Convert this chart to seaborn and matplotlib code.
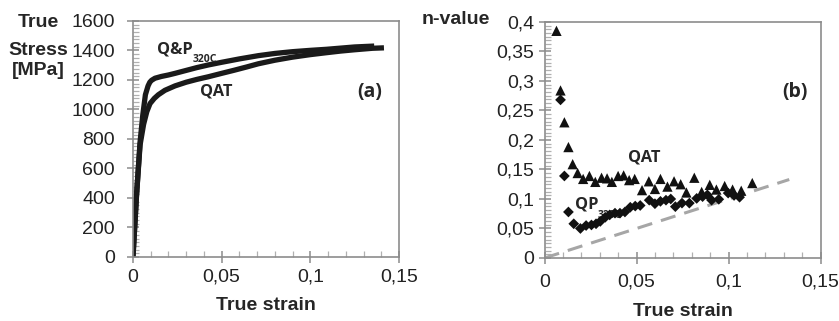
import matplotlib
matplotlib.use("Agg")
import matplotlib.pyplot as plt
import seaborn as sns
import pandas as pd
from matplotlib.ticker import MultipleLocator, AutoMinorLocator, FuncFormatter

# -------------------------
# data
# -------------------------
# (a) true stress - true strain curves
strain_qp = [0, 0.002, 0.004, 0.0055, 0.007, 0.0085, 0.0095, 0.0105, 0.0124, 0.016,
             0.02, 0.0237, 0.03, 0.036, 0.0425, 0.05, 0.06, 0.0707, 0.08, 0.09,
             0.1, 0.109, 0.117, 0.125, 0.136]
stress_qp = [0, 420, 780, 960, 1100, 1160, 1185, 1198, 1212, 1224,
             1234, 1245, 1265, 1284, 1302, 1320, 1343, 1365, 1380, 1392,
             1401, 1408, 1416, 1424, 1430]

strain_qat = [0, 0.002, 0.004, 0.006, 0.0078, 0.0096, 0.012, 0.0143, 0.018, 0.0237,
              0.03, 0.036, 0.0425, 0.05, 0.057, 0.064, 0.0707, 0.08, 0.09, 0.1,
              0.109, 0.117, 0.125, 0.135, 0.1415]
stress_qat = [0, 420, 760, 900, 985, 1040, 1075, 1100, 1130, 1160,
              1185, 1204, 1222, 1245, 1266, 1288, 1310, 1334, 1355, 1372,
              1385, 1396, 1405, 1415, 1418]

# (b) instantaneous n-value
n_strain_qat = [0.0065, 0.0087, 0.0108, 0.013, 0.0153, 0.018, 0.021, 0.0244, 0.0276, 0.031,
                0.034, 0.0366, 0.040, 0.043, 0.046, 0.049, 0.053, 0.0567, 0.060, 0.063,
                0.0668, 0.0704, 0.074, 0.0771, 0.0814, 0.0854, 0.0898, 0.0934, 0.0979,
                0.1022, 0.1069, 0.1129]
n_qat = [0.385, 0.284, 0.230, 0.188, 0.159, 0.144, 0.134, 0.139, 0.129, 0.136,
         0.135, 0.129, 0.139, 0.140, 0.132, 0.134, 0.115, 0.130, 0.117, 0.134,
         0.121, 0.130, 0.125, 0.111, 0.136, 0.112, 0.124, 0.116, 0.122,
         0.116, 0.114, 0.127]

n_strain_qp = [0.0087, 0.0108, 0.013, 0.0159, 0.0195, 0.0226, 0.0255, 0.028, 0.0303, 0.033,
               0.0354, 0.0383, 0.041, 0.0437, 0.0466, 0.0493, 0.052, 0.0569, 0.060, 0.063,
               0.066, 0.0686, 0.0711, 0.0747, 0.0787, 0.0827, 0.0859, 0.0885, 0.0908,
               0.0947, 0.0998, 0.103, 0.106]
n_qp = [0.268, 0.139, 0.078, 0.058, 0.050, 0.055, 0.056, 0.058, 0.062, 0.069,
        0.073, 0.076, 0.076, 0.078, 0.086, 0.088, 0.089, 0.098, 0.092, 0.096,
        0.098, 0.100, 0.087, 0.093, 0.093, 0.101, 0.104, 0.107, 0.098,
        0.0995, 0.110, 0.106, 0.103]

ref_strain = [0, 0.133]
ref_n = [0, 0.133]

# -------------------------
# style
# -------------------------
sns.set_theme(style="white")
plt.rcParams['font.family'] = ['Liberation Sans', 'DejaVu Sans']
plt.rcParams['font.size'] = 14

frame = '#8c8c8c'
ann_font = ['Open Sans', 'DejaVu Sans']


def comma(v, pos):
    return f"{v:g}".replace('.', ',')


def style_axes(ax, ypad):
    for s in ax.spines.values():
        s.set_color(frame)
        s.set_linewidth(1.2)
    ax.xaxis.set_major_locator(MultipleLocator(0.05))
    ax.xaxis.set_minor_locator(MultipleLocator(0.01))
    ax.yaxis.set_minor_locator(AutoMinorLocator(8))
    ax.xaxis.set_major_formatter(FuncFormatter(comma))
    ax.yaxis.set_major_formatter(FuncFormatter(comma))
    ax.tick_params(which='major', direction='inout', length=9, width=1.1,
                   color=frame, labelsize=14, labelcolor='#222222', pad=4,
                   left=True, bottom=True)
    ax.tick_params(axis='y', which='major', pad=ypad)
    ax.tick_params(which='minor', direction='in', length=4, width=0.9,
                   color='#b0b0b0', left=True, bottom=True)
    ax.set_xlim(0, 0.15)
    ax.set_xlabel("True strain", fontsize=14, fontweight='bold')
    ax.set_ylabel("")


fig = plt.figure(figsize=(8.39, 3.21), dpi=100)
ax_a = fig.add_axes([0.1585, 0.1994, 0.3171, 0.7352])
ax_b = fig.add_axes([0.6490, 0.1963, 0.3290, 0.7352])

# -------------------------
# (a) stress-strain
# -------------------------
df_qp = pd.DataFrame({'strain': strain_qp, 'stress': stress_qp})
df_qat = pd.DataFrame({'strain': strain_qat, 'stress': stress_qat})
sns.lineplot(data=df_qat, x='strain', y='stress', sort=False, ax=ax_a,
             color='#1a1a1a', lw=3.8, solid_capstyle='butt', solid_joinstyle='round')
sns.lineplot(data=df_qp, x='strain', y='stress', sort=False, ax=ax_a,
             color='#1a1a1a', lw=3.8, solid_capstyle='butt', solid_joinstyle='round')
style_axes(ax_a, ypad=8.5)
ax_a.set_ylim(0, 1600)
ax_a.yaxis.set_major_locator(MultipleLocator(200))
ax_a.xaxis.labelpad = 8

ax_a.text(0.090, 0.881, "Q&P", transform=ax_a.transAxes, family=ann_font,
          fontweight='bold', fontsize=11.8, va='center', ha='left')
ax_a.text(0.226, 0.835, "320C", transform=ax_a.transAxes, family=ann_font,
          fontweight='bold', fontsize=7.5, va='center', ha='left')
ax_a.text(0.252, 0.701, "QAT", transform=ax_a.transAxes, family=ann_font,
          fontweight='bold', fontsize=11.8, va='center', ha='left')
ax_a.text(0.891, 0.699, "(a)", transform=ax_a.transAxes, family=ann_font,
          fontweight='bold', fontsize=14, va='center', ha='center')

# stacked y label of panel (a)
for txt, base in [("True", 27), ("Stress", 55), ("[MPa]", 75)]:
    fig.text(38 / 839, 1 - base / 321, txt, ha='center', va='baseline',
             fontsize=14, fontweight='bold')

# -------------------------
# (b) n-value
# -------------------------
ax_b.text(0.112, 0.225, "QP", transform=ax_b.transAxes, family=ann_font,
          fontweight='bold', fontsize=11.8, va='center', ha='left', zorder=1)
ax_b.text(0.192, 0.178, "320C", transform=ax_b.transAxes, family=ann_font,
          fontweight='bold', fontsize=7.5, va='center', ha='left', zorder=1)
ax_b.text(0.301, 0.426, "QAT", transform=ax_b.transAxes, family=ann_font,
          fontweight='bold', fontsize=11.8, va='center', ha='left')
ax_b.text(0.906, 0.703, "(b)", transform=ax_b.transAxes, family=ann_font,
          fontweight='bold', fontsize=14, va='center', ha='center')

sns.lineplot(x=ref_strain, y=ref_n, ax=ax_b, color='#a6a6a6', lw=2.2,
             linestyle=(0, (5, 3)))
sns.scatterplot(x=n_strain_qat, y=n_qat, ax=ax_b, marker='^', s=55,
                color='#111111', edgecolor='none', zorder=3)
sns.scatterplot(x=n_strain_qp, y=n_qp, ax=ax_b, marker='D', s=30,
                color='#111111', edgecolor='none', zorder=3)
style_axes(ax_b, ypad=3)
ax_b.set_ylim(0, 0.4)
ax_b.yaxis.set_major_locator(MultipleLocator(0.05))
ax_b.xaxis.labelpad = 9
ax_b.tick_params(axis='x', which='major', pad=7)

fig.text(0.584, 1 - 20 / 321, "n-value", ha='right', va='center', fontsize=14,
         fontweight='bold')

fig.savefig("out.png", dpi=100)
